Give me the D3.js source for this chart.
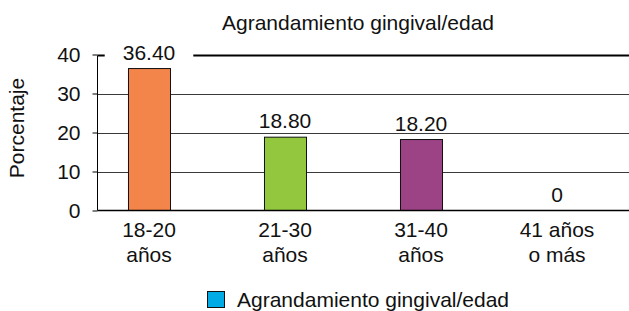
<!DOCTYPE html>
<html>
<head>
<meta charset="utf-8">
<script src="https://cdn.jsdelivr.net/npm/d3@7"></script>
<style>
  body { margin: 0; background: #fff; }
  text { font-family: "Liberation Sans", Arial, Helvetica, sans-serif; fill: #111; }
</style>
</head>
<body>
<svg width="629" height="311"></svg>
<script>
// data
let categories = [["18-20", "años"], ["21-30", "años"], ["31-40", "años"], ["41 años", "o más"]];
let values = [36.40, 18.80, 18.20, 0];
let barColors = ["#f3854b", "#93c83e", "#9c4386", "#00abe6"];
let yTicks = [0, 10, 20, 30, 40];
let title = "Agrandamiento gingival/edad";
let legendLabel = "Agrandamiento gingival/edad";
let legendColor = "#00abe6";

let svg = d3.select("svg"),
    width = +svg.attr("width"),
    height = +svg.attr("height");

let fs = "21px";
let axisX = 97.5, rightEdge = width;

let x = d3.scaleBand()
    .domain(d3.range(categories.length))
    .range([81, 625])
    .paddingInner(0.691)
    .paddingOuter(0.3455)
    .align(0.5);

let y = d3.scaleLinear()
    .domain([0, 40])
    .range([210.5, 54.5]);

// title
svg.append("text")
    .attr("x", 358)
    .attr("y", 30)
    .attr("text-anchor", "middle")
    .style("font-size", fs)
    .text(title);

// gridlines (10,20,30)
svg.selectAll(".grid")
  .data(yTicks.filter(d => d > 0 && d < 40))
  .enter().append("line")
    .attr("class", "grid")
    .attr("x1", axisX).attr("x2", rightEdge)
    .attr("y1", d => Math.round(y(d)) + 0.5).attr("y2", d => Math.round(y(d)) + 0.5)
    .attr("stroke", "#3a3a3a")
    .attr("stroke-width", 1);

// bars
svg.selectAll(".bar")
  .data(values)
  .enter().append("rect")
    .attr("class", "bar")
    .attr("x", (d, i) => x(i) + 0.5)
    .attr("width", x.bandwidth())
    .attr("y", d => y(d))
    .attr("height", d => y(0) - y(d))
    .attr("fill", (d, i) => barColors[i])
    .attr("stroke", "#111")
    .attr("stroke-width", 1)
    .style("display", d => d > 0 ? null : "none");

// value labels
let labels = svg.selectAll(".val")
  .data(values)
  .enter().append("text")
    .attr("class", "val")
    .attr("x", (d, i) => x(i) + x.bandwidth() / 2)
    .attr("y", d => y(d) - 9)
    .attr("text-anchor", "middle")
    .style("font-size", fs)
    .text(d => d === 0 ? "0" : d.toFixed(2));

// top line at 40, broken around the label that reaches it
let topY = Math.round(y(40)) + 0.5;
let gaps = [];
labels.each(function() {
  let b = this.getBBox();
  if (b.y < topY + 2 && b.y + b.height > topY - 2) gaps.push([b.x - 18, b.x + b.width + 18]);
});
gaps.sort((a, b) => a[0] - b[0]);
let segs = [], start = axisX;
gaps.forEach(g => { segs.push([start, g[0]]); start = g[1]; });
segs.push([start, rightEdge]);
svg.selectAll(".top")
  .data(segs)
  .enter().append("line")
    .attr("x1", d => d[0]).attr("x2", d => d[1])
    .attr("y1", topY).attr("y2", topY)
    .attr("stroke", "#000")
    .attr("stroke-width", 2);

// y axis
let yAxis = d3.axisLeft(y)
    .tickValues(yTicks)
    .tickSize(5)
    .tickPadding(12);

let gy = svg.append("g")
    .attr("transform", "translate(" + axisX + ",0)")
    .call(yAxis);
gy.select(".domain").attr("stroke", "#000").attr("d", "M0," + y(0) + "V" + topY);
gy.selectAll(".tick line").attr("stroke", "#000");
gy.selectAll(".tick text")
    .style("font-size", fs)
    .style("font-family", "'Liberation Sans', Arial, sans-serif")
    .attr("fill", "#111");

// baseline
svg.append("line")
    .attr("x1", axisX).attr("x2", rightEdge)
    .attr("y1", y(0)).attr("y2", y(0))
    .attr("stroke", "#000")
    .attr("stroke-width", 1.5);

// y axis title
svg.append("text")
    .attr("transform", "translate(24,128) rotate(-90)")
    .attr("text-anchor", "middle")
    .style("font-size", fs)
    .text("Porcentaje");

// category labels
let cat = svg.selectAll(".cat")
  .data(categories)
  .enter().append("text")
    .attr("class", "cat")
    .attr("text-anchor", "middle")
    .style("font-size", fs);
cat.selectAll("tspan")
  .data((d, i) => d.map(t => ({t: t, i: i})))
  .enter().append("tspan")
    .attr("x", d => x(d.i) + x.bandwidth() / 2)
    .attr("y", (d, j) => 237 + j * 25)
    .text(d => d.t);

// legend
svg.append("rect")
    .attr("x", 207.5).attr("y", 291.5)
    .attr("width", 17).attr("height", 16)
    .attr("fill", legendColor)
    .attr("stroke", "#111");
svg.append("text")
    .attr("x", 237)
    .attr("y", 307)
    .style("font-size", fs)
    .text(legendLabel);
</script>
</body>
</html>
